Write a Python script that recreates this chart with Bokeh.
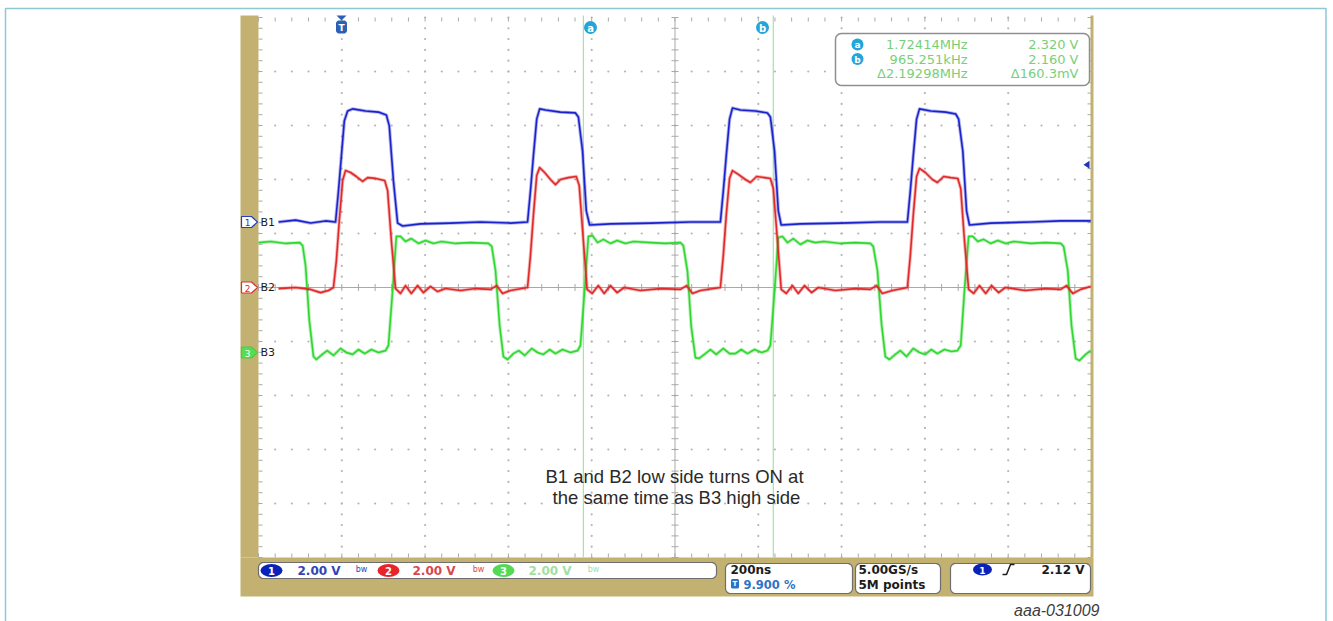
import numpy as np
from bokeh.plotting import figure
from bokeh.models import Range1d
from bokeh.core.properties import value
from bokeh.embed import file_html
from bokeh.resources import INLINE

# ---------------- data (time in ns from trigger, volts above each channel's ground) ----------------
B1_t = [-152, -111, -75, -39, -15, -8, -1, 6, 14, 26, 57, 88, 107, 114, 124, 134, 146, 189, 261, 333, 405, 446,
        453, 460, 468, 475, 489, 525, 561, 568, 578, 587, 595, 645, 741, 837, 909,
        916, 923, 931, 938, 957, 993, 1022, 1029, 1039, 1048, 1055, 1101, 1197, 1293, 1358,
        1365, 1372, 1380, 1387, 1414, 1450, 1474, 1481, 1491, 1500, 1507, 1558, 1654, 1726, 1798]
B1_v = [0.0, 0.07, -0.04, 0.04, 0.0, 1.15, 2.44, 3.74, 4.11, 4.19, 4.11, 4.07, 3.96, 3.56, 1.52, -0.04, -0.15, -0.07, -0.04, 0.0, -0.04, 0.0,
        1.15, 2.44, 3.81, 4.19, 4.15, 4.07, 4.04, 3.89, 2.63, 0.41, -0.11, -0.07, -0.04, 0.0, 0.0,
        1.15, 2.44, 3.81, 4.22, 4.15, 4.11, 4.04, 3.89, 2.63, 0.41, -0.11, -0.07, -0.04, 0.0, 0.0,
        1.15, 2.44, 3.81, 4.19, 4.11, 4.07, 4.0, 3.81, 2.63, 0.41, -0.11, -0.04, 0.0, 0.04, 0.04]

B2_t = [-152, -111, -75, -51, -32, -20, -13, -6, 2, 9, 21, 35, 50, 62, 81, 103, 110, 119, 129, 141, 153, 167, 182, 196, 213, 230, 249, 285, 321, 357, 372, 386, 405, 446,
        453, 460, 468, 475, 487, 501, 513, 525, 544, 563, 570, 580, 589, 601, 616, 630, 645, 661, 678, 717, 765, 813, 828, 842, 861, 909,
        916, 923, 931, 938, 952, 969, 981, 996, 1015, 1029, 1036, 1046, 1055, 1067, 1082, 1096, 1111, 1128, 1144, 1185, 1233, 1269, 1284, 1298, 1322, 1358,
        1365, 1372, 1380, 1387, 1401, 1418, 1430, 1445, 1462, 1479, 1486, 1495, 1505, 1517, 1531, 1546, 1560, 1577, 1593, 1641, 1689, 1726, 1740, 1755, 1774, 1798]
B2_v = [-0.04, 0.0, -0.07, -0.19, -0.11, 0.0, 1.0, 2.48, 3.96, 4.33, 4.26, 4.11, 3.93, 4.07, 4.04, 3.96, 3.59, 1.74, -0.04, -0.22, 0.07, -0.22, 0.07, -0.19, 0.04, -0.15, -0.04, -0.11, -0.04, -0.07, 0.07, -0.22, -0.11, 0.0,
        1.19, 2.67, 4.15, 4.44, 4.26, 4.0, 3.81, 4.0, 4.07, 4.11, 3.78, 1.74, -0.07, -0.22, 0.07, -0.22, 0.07, -0.19, 0.0, -0.11, -0.04, -0.07, 0.07, -0.22, -0.11, 0.0,
        1.19, 2.67, 4.04, 4.33, 4.19, 4.0, 3.89, 4.11, 4.07, 4.04, 3.67, 1.74, -0.07, -0.22, 0.07, -0.22, 0.07, -0.19, 0.0, -0.11, -0.04, -0.07, 0.07, -0.22, -0.11, 0.0,
        1.19, 2.67, 4.11, 4.41, 4.26, 4.0, 3.89, 4.11, 4.07, 4.04, 3.67, 1.74, -0.07, -0.22, 0.07, -0.22, 0.07, -0.19, 0.0, -0.11, -0.04, -0.07, 0.07, -0.22, -0.07, 0.04]

B3_t = [-200, -171, -135, -101, -94, -87, -78, -68, -61, -47, -35, -20, -3, 11, 26, 40, 55, 71, 88, 105, 112, 122, 131,
        141, 153, 167, 184, 201, 220, 239, 273, 309, 352,
        360, 369, 379, 388, 398, 412, 425, 439, 456, 470, 484, 499, 513, 530, 549, 566, 573, 583, 592,
        602, 614, 628, 645, 661, 681, 700, 741, 777, 813,
        820, 830, 839, 849, 858, 873, 885, 899, 916, 931, 945, 959, 974, 991, 1008, 1022, 1029, 1039, 1048,
        1058, 1070, 1084, 1101, 1118, 1137, 1157, 1197, 1233, 1269,
        1276, 1286, 1296, 1305, 1315, 1329, 1341, 1356, 1372, 1387, 1401, 1415, 1430, 1447, 1464, 1478, 1486, 1495, 1505,
        1515, 1527, 1541, 1558, 1575, 1594, 1613, 1654, 1690, 1726,
        1733, 1743, 1752, 1762, 1771, 1786, 1798]
B3_v = [4.07, 4.11, 4.04, 4.07, 3.96, 3.22, 1.19, -0.15, -0.26, -0.07, 0.07, -0.11, 0.15, 0.0, -0.07, 0.11, -0.04, 0.11, 0.0, 0.07, 0.26, 2.30, 4.30,
        4.30, 4.11, 4.22, 4.04, 4.15, 4.04, 4.11, 4.04, 4.07, 4.04,
        3.93, 3.04, 1.0, -0.15, -0.26, -0.04, 0.07, -0.11, 0.15, 0.0, -0.07, 0.11, -0.04, 0.11, 0.0, 0.07, 0.26, 2.30, 4.30,
        4.33, 4.07, 4.19, 4.04, 4.15, 4.04, 4.11, 4.07, 4.04, 4.07,
        3.96, 3.0, 0.96, -0.19, -0.22, -0.04, 0.11, -0.07, 0.15, -0.04, -0.04, 0.11, -0.04, 0.11, 0.0, 0.07, 0.26, 2.26, 4.26,
        4.30, 4.07, 4.22, 4.0, 4.15, 4.07, 4.11, 4.04, 4.07, 4.04,
        3.93, 3.04, 1.04, -0.15, -0.26, -0.07, 0.07, -0.15, 0.15, 0.0, -0.07, 0.11, -0.04, 0.11, 0.04, 0.07, 0.26, 2.30, 4.30,
        4.30, 4.11, 4.19, 4.04, 4.15, 4.04, 4.11, 4.04, 4.07, 4.04,
        3.93, 3.04, 1.0, -0.22, -0.30, -0.07, 0.07]

CURSOR_NS = [580.0, 1036.0]          # cursor a, cursor b
CURSOR_NAMES = ["a", "b"]
TRIG_LEVEL_V = 2.12
MEAS_LEFT = ["1.72414MHz", "965.251kHz", "\u03942.19298MHz"]
MEAS_RIGHT = ["2.320 V", "2.160 V", "\u0394160.3mV"]
CH_NAMES = ["B1", "B2", "B3"]
CH_SCALE = ["2.00 V", "2.00 V", "2.00 V"]
TIMEBASE = "200ns"
TRIG_POS = "9.900 %"
SAMPLE = ["5.00GS/s", "5M points"]
TRIG_TXT = "2.12 V"
NOTE = ["B1 and B2 low side turns ON at", "the same time as B3 high side"]
FIG_ID = "aaa-031009"

# ---------------- layout ----------------
W, H = 1333, 621
X0, X1, Y0, Y1 = 258.0, 1091.0, 17.0, 557.0
DX, DY = (X1 - X0) / 10, (Y1 - Y0) / 10
TRIG_PX = X0 + DX
NS_PER_PX = 200.0 / DX
PX_PER_V = DY / 2.0
GND = {"ch1": 221.5, "ch2": 287.0, "ch3": 352.0}

p = figure(width=W, height=H, x_range=Range1d(0, W), y_range=Range1d(H, 0),
           output_backend="svg", toolbar_location=None, min_border=0,
           x_axis_location=None, y_axis_location=None)
p.grid.visible = False
p.outline_line_color = None
p.background_fill_color = "white"
p.border_fill_color = "white"
p.extra_x_ranges = {"t": Range1d((0 - TRIG_PX) * NS_PER_PX, (W - TRIG_PX) * NS_PER_PX)}
p.extra_y_ranges = {k: Range1d((g - H) / PX_PER_V, g / PX_PER_V) for k, g in GND.items()}

F = value("DejaVu Sans")


def rrect(l, t, r, b, rad, n=7):
    xs, ys = [], []
    for cx, cy, a0, a1 in [(r - rad, t + rad, -90, 0), (r - rad, b - rad, 0, 90),
                           (l + rad, b - rad, 90, 180), (l + rad, t + rad, 180, 270)]:
        for a in np.linspace(np.radians(a0), np.radians(a1), n):
            xs.append(cx + rad * np.cos(a))
            ys.append(cy + rad * np.sin(a))
    return xs, ys


# outer frame
p.quad(left=[5], right=[1325.5], top=[8], bottom=[660], fill_color=None,
       line_color="#8cc9d3", line_width=1.5)

# tan bezel
TAN = "#c3b171"
p.quad(left=[240, 1090, 240], right=[258, 1093, 1093], top=[15, 15, 557], bottom=[557, 557, 596],
       fill_color=TAN, line_color=None)

# graticule dots
mx = X0 + np.arange(51) * DX / 5
my = Y0 + np.arange(51) * DY / 5
dx, dy = [], []
for k in [1, 2, 3, 4, 6, 7, 8, 9]:
    dx += list(mx); dy += [Y0 + k * DY] * 51
    dx += [X0 + k * DX] * 51; dy += list(my)
p.scatter(dx, dy, size=2.2, fill_color="#b5b5b5", line_color=None)

GC = "#a9a9a9"
cy, cx = Y0 + 5 * DY, X0 + 5 * DX
p.segment(x0=[X0, cx], y0=[cy, Y0], x1=[X1, cx], y1=[cy, Y1], line_color=GC, line_width=1)
sx0, sy0, sx1, sy1 = [], [], [], []
for x in mx:
    sx0 += [x, x, x]; sx1 += [x, x, x]
    sy0 += [cy - 3.5, Y0, Y1 - 4]; sy1 += [cy + 3.5, Y0 + 4, Y1]
for y in my:
    sy0 += [y, y, y]; sy1 += [y, y, y]
    sx0 += [cx - 3.5, X0, X1 - 4]; sx1 += [cx + 3.5, X0 + 4, X1]
p.segment(x0=sx0, y0=sy0, x1=sx1, y1=sy1, line_color=GC, line_width=1)

# cursors
p.segment(x0=CURSOR_NS, y0=[15, 15], x1=CURSOR_NS, y1=[Y1, Y1], x_range_name="t",
          line_color="#a6e3a6", line_width=1.2)
p.ellipse(x=[590, 762], y=[27, 27], width=13, height=13, fill_color="#22a6da", line_color=None)
p.text(x=[590, 762], y=[27.5, 27.5], text=CURSOR_NAMES, text_font=F, text_font_size="10px",
       text_font_style="bold", text_color="white", text_align="center", text_baseline="middle")

# trigger position marker
p.patch([336, 346, 341], [15, 15, 20], fill_color="#2d5fb2", line_color=None)
tx, ty = rrect(335.5, 20, 346.5, 33, 3)
p.patch(tx, ty, fill_color="#2d5fb2", line_color=None)
p.text(x=[341], y=[27], text=["T"], text_font=F, text_font_size="9px", text_font_style="bold",
       text_color="white", text_align="center", text_baseline="middle")

# trigger level marker (right edge)
yl = GND["ch1"] - TRIG_LEVEL_V * PX_PER_V
p.patch([1083, 1089, 1089], [yl, yl - 4, yl + 4], fill_color="#2233bb", line_color=None)

# measurement box
bx, by = rrect(835, 33, 1089, 85, 6)
p.patch(bx, by, fill_color="white", line_color="#8f8f8f", line_width=1.5)
rows = [44, 58.5, 73]
p.ellipse(x=[857, 857], y=rows[:2], width=12, height=12, fill_color="#22a6da", line_color=None)
p.text(x=[857, 857], y=[44.5, 59], text=CURSOR_NAMES, text_font=F, text_font_size="9px",
       text_font_style="bold", text_color="white", text_align="center", text_baseline="middle")
p.text(x=[967] * 3, y=rows, text=MEAS_LEFT, text_font=F, text_font_size="13px",
       text_color="#78cf78", text_align="right", text_baseline="middle")
p.text(x=[1078] * 3, y=rows, text=MEAS_RIGHT, text_font=F, text_font_size="13px",
       text_color="#78cf78", text_align="right", text_baseline="middle")

# waveforms
COL = {"ch1": "#1a22cc", "ch2": "#e02a2a", "ch3": "#2fd82f"}
for key, t, v in [("ch3", B3_t, B3_v), ("ch2", B2_t, B2_v), ("ch1", B1_t, B1_v)]:
    p.line(t, v, x_range_name="t", y_range_name=key, line_color=COL[key], line_width=3.4,
           line_alpha=0.35, line_join="round")
    p.line(t, v, x_range_name="t", y_range_name=key, line_color=COL[key], line_width=1.6,
           line_join="round")

# channel markers on the left bezel
marker_style = [("#2a3cc0", "white", "#2a3cc0"), ("#d83030", "white", "#d83030"), ("#44d044", "#55dd55", "white")]
for i, key in enumerate(["ch1", "ch2", "ch3"]):
    g = GND[key]
    lc, fc, tc = marker_style[i]
    p.patch([241, 251, 257, 251, 241], [g - 5.5, g - 5.5, g, g + 5.5, g + 5.5],
            fill_color=fc, line_color=lc, line_width=1.2)
    p.text(x=[247], y=[g + 0.5], text=[str(i + 1)], text_font=F, text_font_size="9px",
           text_color=tc, text_align="center", text_baseline="middle")
p.text(x=[260] * 3, y=[GND["ch1"], GND["ch2"], GND["ch3"]], text=CH_NAMES, text_font=F,
       text_font_size="11px", text_color="#1c1c1c", text_align="left", text_baseline="middle")

# status bar boxes
for (l, t, r, b) in [(258, 562, 716, 578), (725, 563, 852, 593), (855, 563, 940, 593), (950, 563, 1090, 593)]:
    xs, ys = rrect(l, t, r, b, 5)
    p.patch(xs, ys, fill_color="white", line_color="#6e6e6e", line_width=1.2)

ell_x = [271, 388, 503]
ell_c = ["#0b22b8", "#e8232a", "#55d955"]
txt_c = ["#3343b5", "#d8474c", "#a2e0a2"]
p.ellipse(x=ell_x, y=[570] * 3, width=22, height=13, fill_color=ell_c, line_color=None)
p.text(x=ell_x, y=[570.5] * 3, text=["1", "2", "3"], text_font=F, text_font_size="10px",
       text_font_style="bold", text_color="white", text_align="center", text_baseline="middle")
p.text(x=[297, 412, 528], y=[570] * 3, text=CH_SCALE, text_font=F, text_font_size="12px",
       text_font_style="bold", text_color=txt_c, text_align="left", text_baseline="middle")
p.text(x=[361, 478, 593], y=[569] * 3, text=["bw"] * 3, text_font=F, text_font_size="8px",
       text_color=txt_c, text_align="center", text_baseline="middle")

p.text(x=[730], y=[569], text=[TIMEBASE], text_font=F, text_font_size="12px", text_font_style="bold",
       text_color="#1c1c1c", text_align="left", text_baseline="middle")
ix, iy = rrect(730.5, 578.5, 738.5, 588, 1.5)
p.patch(ix, iy, fill_color="#2e74c4", line_color=None)
p.text(x=[734.5], y=[583.5], text=["T"], text_font=F, text_font_size="7px", text_font_style="bold",
       text_color="white", text_align="center", text_baseline="middle")
p.text(x=[743], y=[584], text=[TRIG_POS], text_font=F, text_font_size="11.5px", text_font_style="bold",
       text_color="#2e74c4", text_align="left", text_baseline="middle")
p.text(x=[858, 858], y=[569, 584], text=SAMPLE, text_font=F, text_font_size="12px", text_font_style="bold",
       text_color="#1c1c1c", text_align="left", text_baseline="middle")
p.ellipse(x=[982], y=[569], width=19, height=12, fill_color="#0b22b8", line_color=None)
p.text(x=[982], y=[569.5], text=["1"], text_font=F, text_font_size="9px", text_font_style="bold",
       text_color="white", text_align="center", text_baseline="middle")
p.line([1002, 1006, 1010, 1014], [574, 574, 564, 564], line_color="#1c1c1c", line_width=1.5)
p.text(x=[1084], y=[569], text=[TRIG_TXT], text_font=F, text_font_size="12px", text_font_style="bold",
       text_color="#1c1c1c", text_align="right", text_baseline="middle")

# annotation and figure id
p.text(x=[674, 676], y=[476, 497], text=NOTE, text_font=value("Liberation Sans"),
       text_font_size="18.5px", text_color="#2a2a2a", text_align="center", text_baseline="middle")
p.text(x=[1099], y=[610], text=[FIG_ID], text_font=value("Liberation Sans"), text_font_size="16px",
       text_font_style="italic", text_color="#3c3c3c", text_align="right", text_baseline="middle")

open("out.html", "w").write(file_html(p, INLINE))
